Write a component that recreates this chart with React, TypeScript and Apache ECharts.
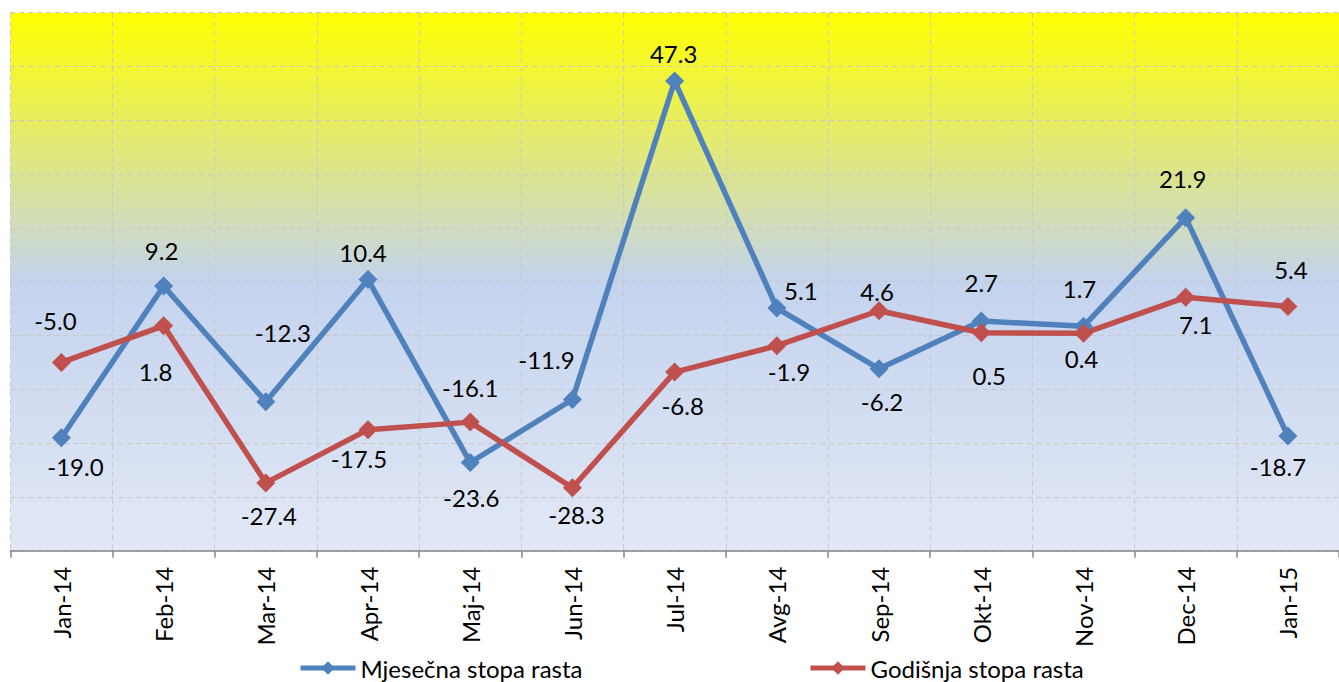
import React, { useEffect, useRef } from 'react';
import * as echarts from 'echarts';

const categories = ['Jan-14', 'Feb-14', 'Mar-14', 'Apr-14', 'Maj-14', 'Jun-14', 'Jul-14', 'Avg-14', 'Sep-14', 'Okt-14', 'Nov-14', 'Dec-14', 'Jan-15'];
const monthlyName = 'Mjesečna stopa rasta';
const annualName = 'Godišnja stopa rasta';
const monthlyRate = [-19.0, 9.2, -12.3, 10.4, -23.6, -11.9, 47.3, 5.1, -6.2, 2.7, 1.7, 21.9, -18.7];
const annualRate = [-5.0, 1.8, -27.4, -17.5, -16.1, -28.3, -6.8, -1.9, 4.6, 0.5, 0.4, 7.1, 5.4];
const yMin = -40;
const yMax = 60;
const yInterval = 10;

// label placement relative to each point (pixels)
const monthlyLabelOffsets = [[14, 29], [-2, -36], [17, -69], [-5, -27], [1, 35], [-26, -40], [-1, -28], [24, -18], [3, 33], [0, -38], [-4, -38], [-3, -39], [-10, 30]];
const annualLabelOffsets = [[-6, -42], [-8, 46], [3, 33], [-9, 29], [0, -35], [4, 27], [8, 33], [12, 26], [-2, -19], [8, 43], [-2, 25], [10, 27], [3, -37]];

const FONT = 'Lato, "Open Sans", sans-serif';
const BLUE = '#4F81BD';
const RED = '#C0504D';

function buildData(values: number[], offsets: number[][]) {
  return values.map((v, i) => ({
    value: v,
    label: { offset: offsets[i] },
  }));
}

export default function App() {
  const ref = useRef<HTMLDivElement>(null);
  useEffect(() => {
    if (!ref.current) return;
    const chart = echarts.init(ref.current, undefined, { renderer: 'svg' });
    const labelStyle = {
      show: true,
      position: 'inside',
      fontFamily: FONT,
      fontSize: 24,
      color: '#000',
      formatter: (p: any) => Number(p.value).toFixed(1),
    };
    const legendCommon = {
      top: 651,
      itemWidth: 55,
      itemHeight: 17,
      itemGap: 10,
      lineStyle: { width: 5 },
      textStyle: { fontFamily: FONT, fontSize: 24, color: '#000' },
    };
    chart.setOption({
      animation: false,
      grid: {
        left: 10.3,
        top: 12.7,
        width: 1336,
        height: 538,
        show: true,
        borderWidth: 0,
        backgroundColor: {
          type: 'linear',
          x: 0, y: 0, x2: 0, y2: 1,
          colorStops: [
            { offset: 0, color: '#FFFF00' },
            { offset: 0.5, color: '#C4D3EE' },
            { offset: 1, color: '#E2E8F5' },
          ],
        },
      },
      legend: [
        { ...legendCommon, left: 293, data: [monthlyName] },
        { ...legendCommon, left: 803, data: [annualName] },
      ],
      xAxis: {
        type: 'category',
        data: categories,
        boundaryGap: true,
        axisLine: { show: true, onZero: false, lineStyle: { color: '#868686', width: 1.5 } },
        axisTick: { show: true, length: 7, lineStyle: { color: '#868686', width: 1.5 } },
        axisLabel: {
          rotate: 90,
          margin: 16,
          fontFamily: FONT,
          fontSize: 24,
          color: '#000',
          interval: 0,
        },
        splitLine: { show: true, lineStyle: { color: '#C8C8C8', type: [5, 4], width: 1 } },
      },
      yAxis: {
        type: 'value',
        min: yMin,
        max: yMax,
        interval: yInterval,
        axisLine: { show: false },
        axisTick: { show: false },
        axisLabel: { show: false },
        splitLine: { show: true, lineStyle: { color: '#C8C8C8', type: [5, 4], width: 1 } },
      },
      series: [
        {
          name: monthlyName,
          type: 'line',
          data: buildData(monthlyRate, monthlyLabelOffsets),
          symbol: 'diamond',
          symbolSize: 19,
          color: BLUE,
          lineStyle: { color: BLUE, width: 5.5 },
          itemStyle: { color: BLUE },
          label: labelStyle,
        },
        {
          name: annualName,
          type: 'line',
          data: buildData(annualRate, annualLabelOffsets),
          symbol: 'diamond',
          symbolSize: 19,
          color: RED,
          lineStyle: { color: RED, width: 5.5 },
          itemStyle: { color: RED },
          label: labelStyle,
        },
      ],
    });
    return () => chart.dispose();
  }, []);
  return (
    <div style={{ position: 'fixed', left: 0, top: 0, width: 1339, height: 682, overflow: 'hidden', background: '#fff' }}>
      <div ref={ref} style={{ width: 1339, height: 682 }} />
    </div>
  );
}
